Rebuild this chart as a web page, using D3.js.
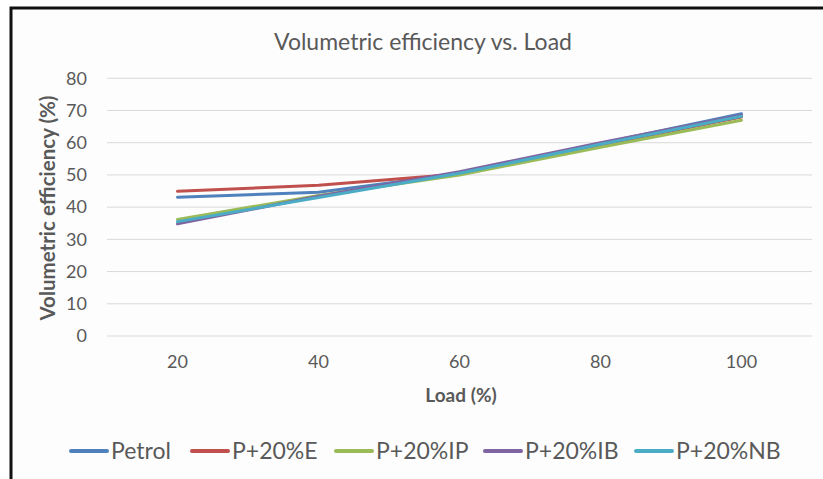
<!DOCTYPE html>
<html>
<head>
<meta charset="utf-8">
<script src="https://cdn.jsdelivr.net/npm/d3@7"></script>
<style>
  body { margin: 0; background: #fff; }
  text { font-family: Lato, "Open Sans", sans-serif; fill: #595959; }
</style>
</head>
<body>
<div id="chart"></div>
<script>
// data
const loads = [20, 40, 60, 80, 100];
const petrol = [43.1, 44.6, 50.4, 59.8, 69.0];
const p20E   = [44.9, 46.8, 50.3, 59.2, 68.0];
const p20IP  = [36.2, 43.6, 50.0, 58.6, 67.0];
const p20IB  = [34.8, 43.4, 51.0, 60.0, 68.5];
const p20NB  = [35.5, 43.0, 50.5, 59.5, 68.2];
const yTicks = [0, 10, 20, 30, 40, 50, 60, 70, 80];

const seriesNames = ["Petrol", "P+20%E", "P+20%IP", "P+20%IB", "P+20%NB"];
const seriesValues = [petrol, p20E, p20IP, p20IB, p20NB];
const colors = ["#4F81BD", "#C0504D", "#9BBB59", "#8064A2", "#4BACC6"];

const width = 823, height = 479;
const svg = d3.select("#chart").append("svg")
    .attr("width", width)
    .attr("height", height);

// chart frame
svg.append("rect")
    .attr("x", 11).attr("y", 8)
    .attr("width", 830).attr("height", 490)
    .attr("fill", "#fdfdfd")
    .attr("stroke", "#111")
    .attr("stroke-width", 3);

const plot = {left: 107, right: 812, top: 78.3, bottom: 336};

const x = d3.scaleBand()
    .domain(loads)
    .range([plot.left, plot.right]);
const y = d3.scaleLinear()
    .domain([0, 80])
    .range([plot.bottom, plot.top]);

// gridlines
svg.append("g")
    .selectAll("line")
    .data(yTicks)
    .enter()
    .append("line")
    .attr("x1", plot.left).attr("x2", plot.right)
    .attr("y1", d => y(d)).attr("y2", d => y(d))
    .attr("stroke", "#d9d9d9")
    .attr("stroke-width", 1);

// y axis labels
const yAxis = svg.append("g")
    .attr("transform", `translate(${plot.left - 20},0)`)
    .call(d3.axisLeft(y).tickValues(yTicks).tickSize(0).tickPadding(0));
yAxis.select(".domain").remove();
yAxis.selectAll("text")
    .style("font-size", "18px")
    .attr("fill", "#595959");

// x axis labels
const xAxis = svg.append("g")
    .attr("transform", `translate(0,${plot.bottom})`)
    .call(d3.axisBottom(x).tickSize(0).tickPadding(19));
xAxis.select(".domain").remove();
xAxis.selectAll("text")
    .style("font-size", "18px")
    .attr("fill", "#595959");

// lines
const line = d3.line()
    .x((d, i) => x(loads[i]) + x.bandwidth() / 2)
    .y(d => y(d));

svg.append("g")
    .selectAll("path")
    .data(seriesValues)
    .enter()
    .append("path")
    .attr("d", d => line(d))
    .attr("fill", "none")
    .attr("stroke", (d, i) => colors[i])
    .attr("stroke-width", 3)
    .attr("stroke-linejoin", "round")
    .attr("stroke-linecap", "round");

// titles
svg.append("text")
    .attr("x", 423).attr("y", 50)
    .attr("text-anchor", "middle")
    .style("font-size", "23px")
    .text("Volumetric efficiency vs. Load");

svg.append("text")
    .attr("x", 461).attr("y", 402)
    .attr("text-anchor", "middle")
    .style("font-size", "19px")
    .style("font-weight", "bold")
    .text("Load (%)");

svg.append("text")
    .attr("transform", "translate(55,208) rotate(-90)")
    .attr("text-anchor", "middle")
    .style("font-size", "20.5px")
    .style("font-weight", "bold")
    .text("Volumetric efficiency (%)");

// legend
const legendX = [71, 192, 336, 485, 636];
const legend = svg.append("g")
    .selectAll("g")
    .data(seriesNames)
    .enter()
    .append("g")
    .attr("transform", (d, i) => `translate(${legendX[i]},451)`);
legend.append("line")
    .attr("x1", 0).attr("x2", 36)
    .attr("stroke", (d, i) => colors[i])
    .attr("stroke-width", 4)
    .attr("stroke-linecap", "round");
legend.append("text")
    .attr("x", 40).attr("y", 8)
    .style("font-size", "23px")
    .text(d => d);
</script>
</body>
</html>
